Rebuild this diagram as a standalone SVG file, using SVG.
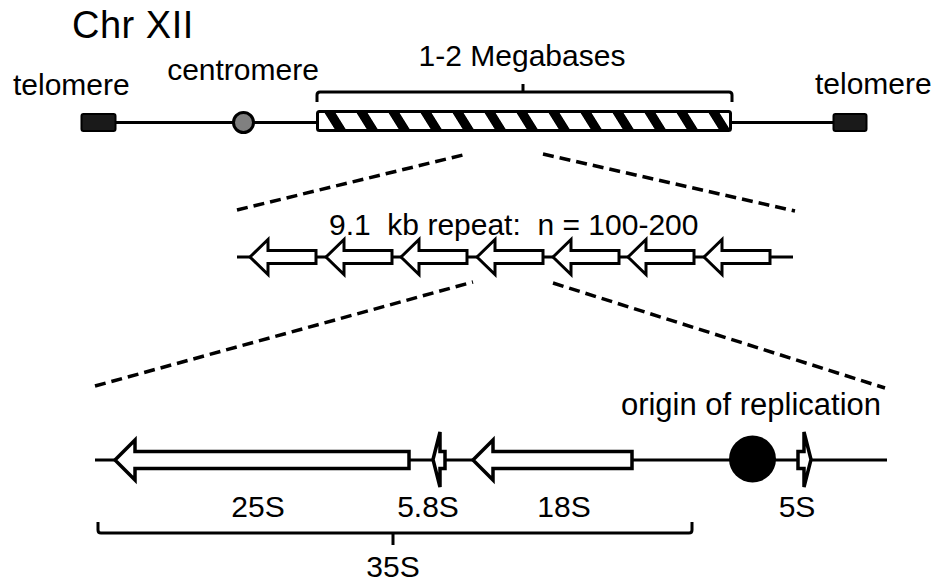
<svg xmlns="http://www.w3.org/2000/svg" width="939" height="586" viewBox="0 0 939 586">
  <style>
    text { font-family: "Liberation Sans", Arial, sans-serif; fill: #000; }
    .lbl { font-size: 30px; }
    .title { font-size: 38px; letter-spacing: 0.5px; }
    .mid { text-anchor: middle; }
    .wire { stroke: #000; stroke-width: 3; fill: none; }
    .dash { stroke: #000; stroke-width: 3.5; fill: none; stroke-dasharray: 11 6; }
    .gene { fill: #fff; stroke: #000; stroke-width: 3.5; stroke-linejoin: miter; }
    .unit { fill: #fff; stroke: #000; stroke-width: 3; stroke-linejoin: miter; }
    .brace { stroke: #000; stroke-width: 3; fill: none; stroke-linejoin: round; }
  </style>
  <defs>
    <pattern id="hatch" patternUnits="userSpaceOnUse" width="32" height="40" x="318" y="0" patternTransform="skewX(32)">
      <rect x="0" y="0" width="32" height="40" fill="#fff"/>
      <rect x="0" y="0" width="11" height="40" fill="#000"/>
    </pattern>
    <!-- one 9.1 kb repeat unit, pointing left, tip at origin -->
    <path id="repeatUnit" class="unit" d="M0,0 L18,-17.5 L18,-6.5 L66,-6.5 L66,6.5 L18,6.5 L18,17.5 Z"/>
  </defs>

  <!-- Chromosome XII overview -->
  <text class="title" x="72" y="38">Chr XII</text>

  <g id="chromosome">
    <line class="wire" x1="116" y1="122.5" x2="833" y2="122.5"/>
  </g>

  <g id="telomere-left">
    <rect x="81.5" y="114" width="34" height="17" rx="2" fill="#1a1a1a" stroke="#000" stroke-width="2"/>
    <text class="lbl" x="13" y="95">telomere</text>
  </g>

  <g id="centromere">
    <circle cx="243.5" cy="122.5" r="10" fill="#808080" stroke="#000" stroke-width="3"/>
    <text class="lbl mid" x="243" y="80">centromere</text>
  </g>

  <g id="rdna-locus">
    <rect x="317.5" y="111.5" width="413" height="19" rx="2" fill="url(#hatch)" stroke="#000" stroke-width="3"/>
    <path class="brace" d="M317,102 V95 Q317,92 320,92 H729 Q732,92 732,95 V102 M523,92 V84"/>
    <text class="lbl mid" x="522" y="66">1-2 Megabases</text>
  </g>

  <g id="telomere-right">
    <rect x="833.5" y="114" width="33" height="17" rx="2" fill="#1a1a1a" stroke="#000" stroke-width="2"/>
    <text class="lbl" x="815" y="94">telomere</text>
  </g>

  <!-- zoom-in guides -->
  <g id="connectors">
    <line class="dash" x1="237" y1="210" x2="467" y2="154"/>
    <line class="dash" x1="543" y1="154" x2="795" y2="211"/>
    <line class="dash" x1="95" y1="386" x2="473" y2="282"/>
    <line class="dash" x1="553" y1="283" x2="885" y2="388"/>
  </g>

  <!-- tandem array of repeat units -->
  <g id="repeat-array">
    <text class="lbl" x="329" y="235" xml:space="preserve">9.1  kb repeat:  n = 100-200</text>
    <line class="wire" x1="237" y1="257" x2="793" y2="257"/>
    <use href="#repeatUnit" x="250" y="257"/>
    <use href="#repeatUnit" x="326" y="257"/>
    <use href="#repeatUnit" x="401" y="257"/>
    <use href="#repeatUnit" x="477" y="257"/>
    <use href="#repeatUnit" x="553" y="257"/>
    <use href="#repeatUnit" x="628" y="257"/>
    <use href="#repeatUnit" x="704" y="257"/>
  </g>

  <!-- single repeat unit detail -->
  <g id="unit-backbone">
    <line class="wire" x1="95" y1="460" x2="887" y2="460"/>
  </g>

  <g id="gene-25S">
    <path class="gene" d="M115,460 L135,440 L135,451.5 L409,451.5 L409,468.5 L135,468.5 L135,480 Z"/>
    <text class="lbl mid" x="258" y="517">25S</text>
  </g>

  <g id="gene-5-8S">
    <path class="gene" d="M433,459.5 L440,432 L440,451.5 L445,451.5 L445,468.5 L440,468.5 L440,487 Z"/>
    <text class="lbl mid" x="428" y="517">5.8S</text>
  </g>

  <g id="gene-18S">
    <path class="gene" d="M473,460 L493,440 L493,451.5 L632,451.5 L632,468.5 L493,468.5 L493,480 Z"/>
    <text class="lbl mid" x="564" y="517">18S</text>
  </g>

  <g id="origin">
    <circle cx="752.5" cy="459" r="23.5" fill="#000"/>
    <text class="lbl mid" x="751" y="415" style="font-size:31px">origin of replication</text>
  </g>

  <g id="gene-5S">
    <path class="gene" d="M811,459.5 L804,432 L804,451.5 L798,451.5 L798,468.5 L804,468.5 L804,487 Z"/>
    <text class="lbl mid" x="797" y="517">5S</text>
  </g>

  <g id="transcript-35S">
    <path class="brace" d="M98,522 V530 Q98,533 101,533 H689 Q692,533 692,530 V522 M393,533 V545"/>
    <text class="lbl mid" x="393" y="577">35S</text>
  </g>
</svg>
